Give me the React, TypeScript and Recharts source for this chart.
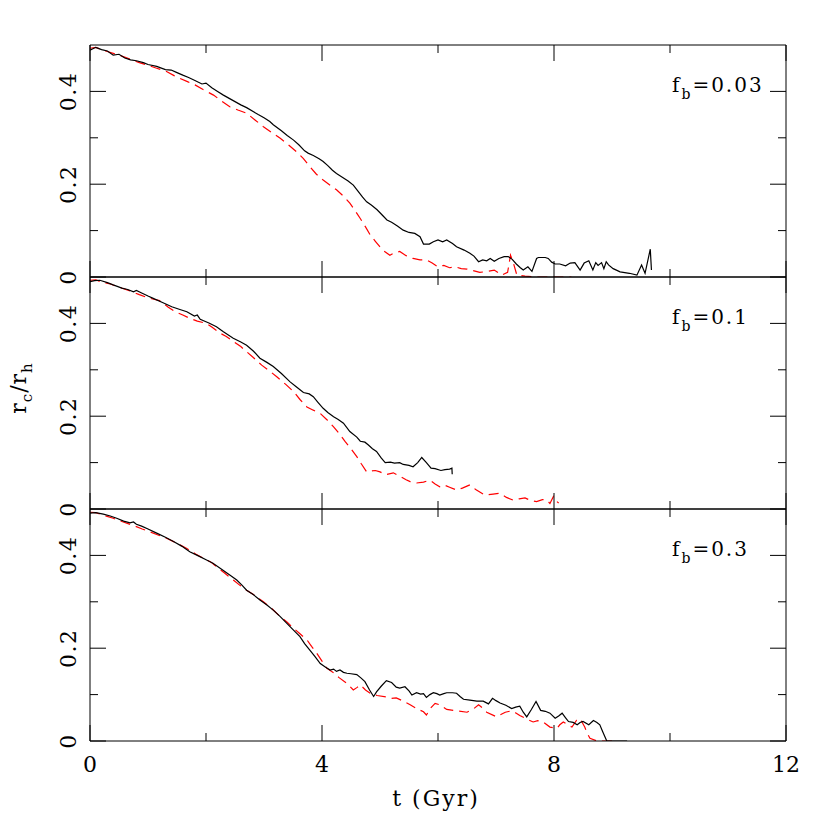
import React from 'react';
import { LineChart, Line, XAxis, YAxis } from 'recharts';

// r_c/r_h against time, one panel per binary fraction
const xTicks = [0, 2, 4, 6, 8, 10, 12];
const yTicks = [0, 0.1, 0.2, 0.3, 0.4];
const panelLabels = ['0.03', '0.1', '0.3'];

// f_b = 0.03
const solid003: [number, number][] = [
  [0, 0.489], [0.05, 0.492], [0.1, 0.495], [0.2, 0.49], [0.3, 0.487], [0.4, 0.478], [0.5, 0.48],
  [0.6, 0.472], [0.7, 0.468], [0.8, 0.466], [0.92, 0.462], [1.0, 0.458], [1.15, 0.454], [1.3, 0.447],
  [1.4, 0.446], [1.49, 0.441], [1.6, 0.435], [1.7, 0.43], [1.8, 0.424], [1.93, 0.416], [2.0, 0.418],
  [2.1, 0.408], [2.2, 0.4], [2.3, 0.392], [2.4, 0.385], [2.5, 0.378], [2.6, 0.371], [2.7, 0.365],
  [2.82, 0.356], [2.9, 0.35], [3.0, 0.343], [3.1, 0.335], [3.16, 0.328], [3.3, 0.315], [3.4, 0.305],
  [3.51, 0.295], [3.6, 0.285], [3.7, 0.272], [3.76, 0.267], [3.85, 0.262], [3.95, 0.255], [4.02, 0.249],
  [4.1, 0.24], [4.18, 0.23], [4.25, 0.223], [4.35, 0.215], [4.45, 0.207], [4.54, 0.198], [4.62, 0.185],
  [4.7, 0.172], [4.77, 0.162], [4.85, 0.155], [4.95, 0.145], [5.05, 0.132], [5.12, 0.123], [5.2, 0.118],
  [5.3, 0.11], [5.4, 0.101], [5.5, 0.096], [5.6, 0.094], [5.69, 0.087], [5.75, 0.071], [5.85, 0.071],
  [5.92, 0.076], [6.0, 0.08], [6.08, 0.076], [6.15, 0.08], [6.25, 0.072], [6.32, 0.065], [6.45, 0.058],
  [6.55, 0.051], [6.62, 0.045], [6.7, 0.033], [6.77, 0.037], [6.84, 0.035], [6.9, 0.04], [6.97, 0.034],
  [7.05, 0.04], [7.14, 0.044], [7.21, 0.044], [7.28, 0.038], [7.35, 0.028], [7.42, 0.02], [7.47, 0.015],
  [7.55, 0.022], [7.62, 0.012], [7.7, 0.04], [7.73, 0.042], [7.85, 0.042], [7.9, 0.04], [7.96, 0.032],
  [8.02, 0.028], [8.1, 0.028], [8.2, 0.024], [8.28, 0.03], [8.36, 0.031], [8.45, 0.015], [8.52, 0.03],
  [8.6, 0.035], [8.67, 0.015], [8.72, 0.031], [8.76, 0.025], [8.82, 0.031], [8.86, 0.018], [8.9, 0.033],
  [8.94, 0.026], [9.02, 0.018], [9.14, 0.011], [9.3, 0.008], [9.43, 0.004], [9.51, 0.026], [9.57, 0.008],
  [9.66, 0.06], [9.68, 0.015],
];
const dashed003: [number, number][] = [
  [0, 0.493], [0.1, 0.495], [0.2, 0.49], [0.3, 0.486], [0.4, 0.482], [0.55, 0.476], [0.72, 0.468],
  [0.85, 0.462], [1.03, 0.455], [1.15, 0.45], [1.32, 0.443], [1.45, 0.434], [1.55, 0.428], [1.68, 0.421],
  [1.81, 0.414], [1.95, 0.404], [2.13, 0.392], [2.25, 0.381], [2.41, 0.367], [2.55, 0.36], [2.7, 0.353],
  [2.85, 0.338], [2.99, 0.324], [3.15, 0.31], [3.28, 0.299], [3.42, 0.285], [3.56, 0.27], [3.68, 0.255],
  [3.79, 0.238], [3.9, 0.222], [4.02, 0.209], [4.15, 0.197], [4.25, 0.188], [4.38, 0.173], [4.48, 0.159],
  [4.57, 0.143], [4.66, 0.126], [4.75, 0.108], [4.83, 0.091], [4.92, 0.077], [5.0, 0.065], [5.08, 0.055],
  [5.17, 0.047], [5.25, 0.052], [5.34, 0.055], [5.45, 0.046], [5.57, 0.04], [5.69, 0.037], [5.8, 0.037],
  [5.9, 0.03], [6.0, 0.022], [6.1, 0.025], [6.2, 0.02], [6.3, 0.022], [6.4, 0.018], [6.5, 0.017],
  [6.6, 0.014], [6.72, 0.01], [6.85, 0.012], [6.97, 0.015], [7.05, 0.008], [7.1, 0.004], [7.2, 0.01],
  [7.25, 0.047], [7.3, 0.03], [7.36, 0.004], [7.5, 0.002], [7.7, 0], [8.0, 0], [8.3, 0],
];

// f_b = 0.1
const solid01: [number, number][] = [
  [0, 0.49], [0.08, 0.492], [0.17, 0.493], [0.3, 0.488], [0.4, 0.483], [0.55, 0.476], [0.65, 0.473],
  [0.75, 0.468], [0.8, 0.471], [0.9, 0.465], [1.0, 0.459], [1.09, 0.454], [1.25, 0.445], [1.41, 0.436],
  [1.55, 0.43], [1.67, 0.425], [1.8, 0.416], [1.85, 0.418], [1.9, 0.409], [2.05, 0.401], [2.18, 0.393],
  [2.3, 0.382], [2.47, 0.368], [2.6, 0.36], [2.7, 0.353], [2.82, 0.34], [2.93, 0.325], [3.05, 0.316],
  [3.16, 0.307], [3.3, 0.292], [3.45, 0.274], [3.55, 0.264], [3.68, 0.251], [3.78, 0.248], [3.85, 0.242],
  [3.93, 0.23], [4.02, 0.217], [4.1, 0.208], [4.2, 0.199], [4.28, 0.193], [4.37, 0.185], [4.48, 0.167],
  [4.6, 0.155], [4.66, 0.146], [4.74, 0.144], [4.8, 0.138], [4.87, 0.13], [4.94, 0.124], [5.02, 0.11],
  [5.09, 0.1], [5.18, 0.101], [5.25, 0.099], [5.34, 0.1], [5.4, 0.096], [5.5, 0.094], [5.57, 0.091],
  [5.65, 0.1], [5.72, 0.111], [5.8, 0.1], [5.88, 0.088], [5.95, 0.087], [6.05, 0.083], [6.12, 0.085],
  [6.2, 0.086], [6.24, 0.088], [6.245, 0.075],
];
const dashed01: [number, number][] = [
  [0, 0.493], [0.1, 0.494], [0.2, 0.489], [0.35, 0.485], [0.5, 0.478], [0.69, 0.47], [0.85, 0.462],
  [0.98, 0.456], [1.1, 0.452], [1.2, 0.449], [1.35, 0.435], [1.47, 0.425], [1.6, 0.418], [1.72, 0.411],
  [1.85, 0.405], [2.01, 0.4], [2.1, 0.392], [2.24, 0.379], [2.35, 0.372], [2.47, 0.361], [2.6, 0.35],
  [2.7, 0.339], [2.82, 0.326], [2.96, 0.31], [3.1, 0.297], [3.22, 0.285], [3.38, 0.268], [3.51, 0.253],
  [3.62, 0.236], [3.74, 0.22], [3.85, 0.213], [3.97, 0.206], [4.08, 0.193], [4.2, 0.177], [4.3, 0.162],
  [4.4, 0.145], [4.5, 0.13], [4.6, 0.113], [4.68, 0.097], [4.77, 0.08], [4.85, 0.082], [4.92, 0.083],
  [5.0, 0.08], [5.1, 0.074], [5.23, 0.078], [5.35, 0.07], [5.45, 0.063], [5.52, 0.059], [5.63, 0.056],
  [5.75, 0.058], [5.86, 0.062], [5.95, 0.054], [6.03, 0.048], [6.1, 0.052], [6.2, 0.047], [6.32, 0.041],
  [6.42, 0.045], [6.55, 0.052], [6.65, 0.042], [6.81, 0.03], [6.95, 0.032], [7.07, 0.034], [7.18, 0.025],
  [7.3, 0.019], [7.4, 0.022], [7.5, 0.024], [7.6, 0.018], [7.7, 0.016], [7.8, 0.02], [7.87, 0.02],
  [7.93, 0.012], [7.99, 0.027], [8.05, 0.016], [8.08, 0.013],
];

// f_b = 0.3
const solid03: [number, number][] = [
  [0, 0.491], [0.1, 0.492], [0.23, 0.489], [0.35, 0.485], [0.46, 0.48], [0.58, 0.474], [0.69, 0.47],
  [0.75, 0.472], [0.8, 0.467], [0.89, 0.463], [1.0, 0.457], [1.15, 0.448], [1.3, 0.439], [1.44, 0.43],
  [1.58, 0.42], [1.72, 0.408], [1.85, 0.4], [2.01, 0.39], [2.12, 0.383], [2.25, 0.372], [2.41, 0.358],
  [2.53, 0.347], [2.62, 0.336], [2.7, 0.325], [2.82, 0.315], [2.93, 0.304], [3.05, 0.293], [3.16, 0.282],
  [3.28, 0.268], [3.39, 0.254], [3.5, 0.24], [3.62, 0.225], [3.7, 0.21], [3.79, 0.196], [3.88, 0.182],
  [3.97, 0.167], [4.05, 0.16], [4.14, 0.153], [4.2, 0.155], [4.25, 0.15], [4.31, 0.153], [4.37, 0.148],
  [4.43, 0.146], [4.5, 0.145], [4.6, 0.143], [4.67, 0.136], [4.74, 0.128], [4.82, 0.11], [4.89, 0.096],
  [4.94, 0.106], [5.02, 0.118], [5.11, 0.13], [5.2, 0.126], [5.28, 0.116], [5.34, 0.114], [5.43, 0.117],
  [5.5, 0.108], [5.55, 0.099], [5.63, 0.104], [5.7, 0.101], [5.75, 0.102], [5.8, 0.094], [5.86, 0.1],
  [5.92, 0.104], [5.98, 0.102], [6.03, 0.099], [6.1, 0.102], [6.15, 0.104], [6.25, 0.104], [6.32, 0.103],
  [6.38, 0.096], [6.44, 0.09], [6.55, 0.088], [6.67, 0.086], [6.78, 0.086], [6.87, 0.08], [6.94, 0.092],
  [7.0, 0.087], [7.07, 0.082], [7.17, 0.077], [7.27, 0.07], [7.34, 0.073], [7.41, 0.075], [7.47, 0.062],
  [7.53, 0.052], [7.61, 0.068], [7.69, 0.085], [7.77, 0.066], [7.85, 0.064], [7.93, 0.06], [8.02, 0.049],
  [8.08, 0.054], [8.14, 0.06], [8.2, 0.05], [8.25, 0.042], [8.33, 0.04], [8.4, 0.035], [8.45, 0.04],
  [8.5, 0.042], [8.6, 0.035], [8.68, 0.044], [8.74, 0.04], [8.79, 0.035], [8.84, 0.02], [8.91, 0],
  [9.26, 0],
];
const dashed03: [number, number][] = [
  [0, 0.493], [0.1, 0.492], [0.25, 0.486], [0.4, 0.48], [0.55, 0.473], [0.78, 0.463], [0.9, 0.457],
  [1.03, 0.451], [1.15, 0.445], [1.32, 0.437], [1.5, 0.426], [1.67, 0.415], [1.82, 0.403], [1.98, 0.392],
  [2.08, 0.386], [2.18, 0.376], [2.32, 0.362], [2.47, 0.347], [2.58, 0.336], [2.7, 0.325], [2.85, 0.313],
  [2.99, 0.3], [3.12, 0.287], [3.28, 0.268], [3.4, 0.256], [3.51, 0.243], [3.62, 0.231], [3.74, 0.218],
  [3.82, 0.204], [3.91, 0.189], [4.0, 0.172], [4.08, 0.157], [4.2, 0.147], [4.3, 0.136], [4.43, 0.124],
  [4.54, 0.11], [4.6, 0.115], [4.66, 0.121], [4.75, 0.11], [4.83, 0.103], [4.95, 0.098], [5.11, 0.095],
  [5.2, 0.092], [5.28, 0.093], [5.4, 0.086], [5.52, 0.078], [5.63, 0.07], [5.75, 0.063], [5.8, 0.056],
  [5.88, 0.072], [5.95, 0.081], [6.03, 0.078], [6.15, 0.068], [6.32, 0.065], [6.5, 0.062], [6.62, 0.07],
  [6.7, 0.078], [6.78, 0.07], [6.84, 0.062], [7.01, 0.052], [7.1, 0.058], [7.16, 0.062], [7.27, 0.065],
  [7.35, 0.06], [7.41, 0.055], [7.52, 0.048], [7.64, 0.041], [7.72, 0.044], [7.81, 0.041], [7.93, 0.03],
  [8.05, 0.027], [8.1, 0.035], [8.16, 0.041], [8.25, 0.034], [8.31, 0.03], [8.39, 0.045], [8.45, 0.048],
  [8.53, 0.03], [8.58, 0.015], [8.62, 0.006], [8.74, 0], [9.0, 0],
];

const panels = [
  { label: panelLabels[0], solid: solid003, dashed: dashed003 },
  { label: panelLabels[1], solid: solid01, dashed: dashed01 },
  { label: panelLabels[2], solid: solid03, dashed: dashed03 },
];

const FONT = '"DejaVu Serif", serif';
const PANEL_TOP = 45;
const PANEL_H = 232;
const MAJOR = 16;
const MINOR = 8;

const toPoints = (rows: [number, number][]) => rows.map(([t, v]) => ({ t, v }));
const isMajorX = (v: number) => v % 4 === 0;
const isMajorY = (v: number) => Math.round(v * 10) % 2 === 0;

function LeftTick(props: any) {
  const { x, y, payload } = props;
  const major = isMajorY(payload.value);
  return (
    <g>
      <line x1={x} y1={y} x2={x + (major ? MAJOR : MINOR)} y2={y} stroke="#000" strokeWidth={1} />
      {major && (
        <text
          transform={`translate(${x - 14},${y}) rotate(-90)`}
          textAnchor="middle"
          fontFamily={FONT}
          fontSize={22}
          letterSpacing={1.5}
          fill="#000"
        >
          {payload.value === 0 ? '0' : payload.value.toFixed(1)}
        </text>
      )}
    </g>
  );
}

function RightTick(props: any) {
  const { x, y, payload } = props;
  const len = isMajorY(payload.value) ? MAJOR : MINOR;
  return <line x1={x} y1={y} x2={x - len} y2={y} stroke="#000" strokeWidth={1} />;
}

function BottomTick(props: any) {
  const { x, y, payload, showLabel } = props;
  const major = isMajorX(payload.value);
  return (
    <g>
      <line x1={x} y1={y} x2={x} y2={y - (major ? MAJOR : MINOR)} stroke="#000" strokeWidth={1} />
      {showLabel && major && (
        <text x={x} y={y + 31} textAnchor="middle" fontFamily={FONT} fontSize={22} fill="#000">
          {payload.value}
        </text>
      )}
    </g>
  );
}

function TopTick(props: any) {
  const { x, y, payload } = props;
  const len = isMajorX(payload.value) ? MAJOR : MINOR;
  return <line x1={x} y1={y} x2={x} y2={y + len} stroke="#000" strokeWidth={1} />;
}

function Panel({ index }: { index: number }) {
  const p = panels[index];
  const last = index === panels.length - 1;
  const height = PANEL_H + 40 + (last ? 50 : 0);
  return (
    <div style={{ position: 'absolute', left: 0, top: PANEL_TOP + PANEL_H * index - 20, width: 830, height }}>
      <LineChart
        width={830}
        height={height}
        margin={{ top: 10, right: 4, bottom: last ? 60 : 10, left: 50 }}
      >
        <XAxis
          xAxisId="b"
          type="number"
          dataKey="t"
          domain={[0, 12]}
          ticks={xTicks}
          interval={0}
          allowDataOverflow
          height={10}
          tickSize={0}
          tickMargin={0}
          axisLine={{ stroke: '#000' }}
          tickLine={false}
          tick={(tp: any) => <BottomTick {...tp} showLabel={last} />}
        />
        <XAxis
          xAxisId="t"
          orientation="top"
          type="number"
          dataKey="t"
          domain={[0, 12]}
          ticks={xTicks}
          interval={0}
          allowDataOverflow
          height={10}
          tickSize={0}
          tickMargin={0}
          axisLine={{ stroke: '#000' }}
          tickLine={false}
          tick={(tp: any) => <TopTick {...tp} />}
        />
        <YAxis
          yAxisId="l"
          type="number"
          domain={[0, 0.5]}
          ticks={yTicks}
          interval={0}
          allowDataOverflow
          width={40}
          tickSize={0}
          tickMargin={0}
          axisLine={{ stroke: '#000' }}
          tickLine={false}
          tick={(tp: any) => <LeftTick {...tp} />}
        />
        <YAxis
          yAxisId="r"
          orientation="right"
          type="number"
          domain={[0, 0.5]}
          ticks={yTicks}
          interval={0}
          allowDataOverflow
          width={40}
          tickSize={0}
          tickMargin={0}
          axisLine={{ stroke: '#000' }}
          tickLine={false}
          tick={(tp: any) => <RightTick {...tp} />}
        />
        <Line
          xAxisId="b"
          yAxisId="l"
          data={toPoints(p.dashed)}
          dataKey="v"
          type="linear"
          stroke="#ff0000"
          strokeWidth={1.2}
          strokeDasharray="10 6"
          dot={false}
          activeDot={false}
          isAnimationActive={false}
        />
        <Line
          xAxisId="b"
          yAxisId="l"
          data={toPoints(p.solid)}
          dataKey="v"
          type="linear"
          stroke="#000"
          strokeWidth={1.2}
          dot={false}
          activeDot={false}
          isAnimationActive={false}
        />
      </LineChart>
    </div>
  );
}

export default function App() {
  return (
    <div style={{ position: 'absolute', left: 0, top: 0, width: 830, height: 830, background: '#fff' }}>
      {panels.map((_, i) => (
        <Panel key={i} index={i} />
      ))}
      <svg
        width={830}
        height={830}
        style={{ position: 'absolute', left: 0, top: 0, pointerEvents: 'none' }}
        fontFamily={FONT}
        fill="#000"
      >
        {panels.map((p, i) => (
          <text key={i} x={672} y={PANEL_TOP + PANEL_H * i + 47} fontSize={20} letterSpacing={2}>
            f
            <tspan dy={7} fontSize={14}>b</tspan>
            <tspan dy={-7}>={p.label}</tspan>
          </text>
        ))}
        <text x={436} y={806} textAnchor="middle" fontSize={22} letterSpacing={2}>
          t (Gyr)
        </text>
        <text transform="translate(26,388) rotate(-90)" textAnchor="middle" fontSize={22} letterSpacing={1}>
          r
          <tspan dy={6} fontSize={15}>c</tspan>
          <tspan dy={-6}>/r</tspan>
          <tspan dy={6} fontSize={15}>h</tspan>
        </text>
      </svg>
    </div>
  );
}
